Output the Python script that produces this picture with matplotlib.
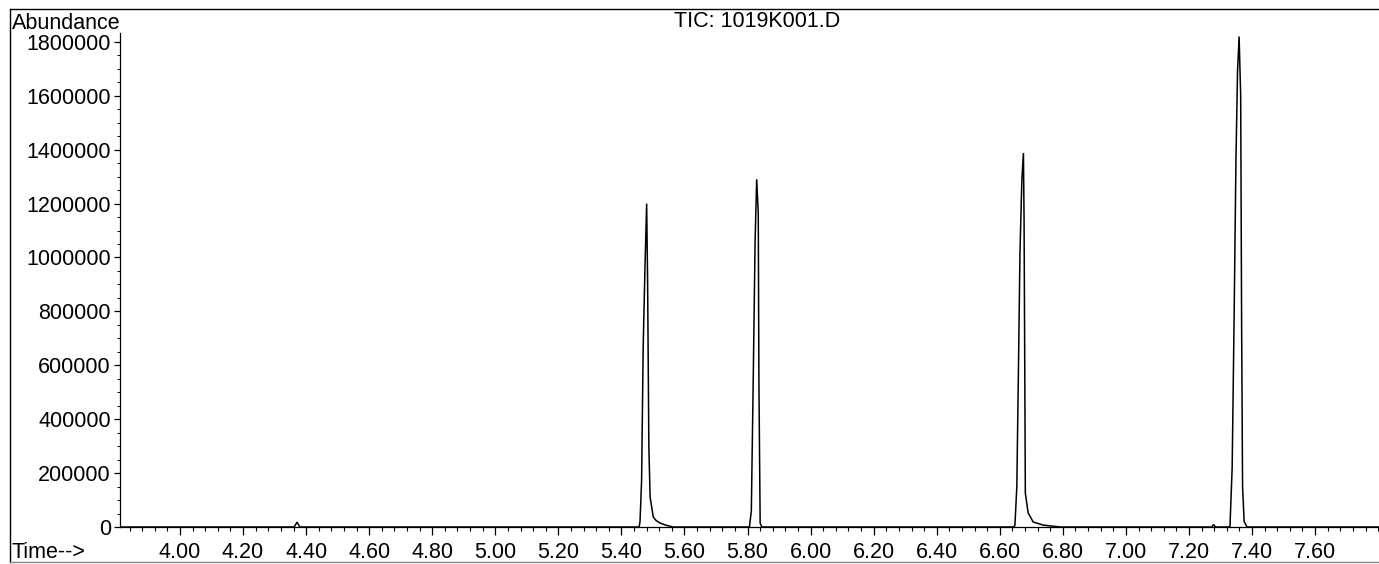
import matplotlib
matplotlib.use("Agg")
import matplotlib.pyplot as plt
from matplotlib.lines import Line2D
from matplotlib.ticker import MultipleLocator, FixedLocator
import numpy as np

# ---- data (time in min, abundance) ----
baseline_t = [3.8097, 7.8027]
baseline_y = [0, 0]

bump1_t = [4.362, 4.371, 4.380]
bump1_y = [0, 18000, 0]

peak1_t = [5.456, 5.459, 5.464, 5.469, 5.475, 5.480, 5.483, 5.487, 5.491, 5.501, 5.510, 5.522, 5.540, 5.564]
peak1_y = [0, 20000, 174000, 668000, 980000, 1200000, 917000, 297000, 111000, 37000, 24000, 15000, 7000, 0]

peak2_t = [5.806, 5.812, 5.818, 5.824, 5.829, 5.834, 5.836, 5.840, 5.845]
peak2_y = [0, 60000, 545000, 1065000, 1290000, 1165000, 545000, 15000, 0]

peak3_t = [6.645, 6.648, 6.654, 6.659, 6.664, 6.670, 6.675, 6.677, 6.679, 6.681, 6.690, 6.706, 6.738, 6.791]
peak3_y = [0, 7000, 148000, 571000, 1017000, 1288000, 1388000, 1139000, 646000, 126000, 52000, 18500, 7000, 0]

bump2_t = [7.272, 7.278, 7.284]
bump2_y = [0, 9000, 0]

peak4_t = [7.330, 7.337, 7.343, 7.349, 7.354, 7.359, 7.364, 7.367, 7.370, 7.375, 7.384]
peak4_y = [0, 220000, 760000, 1360000, 1690000, 1820000, 1600000, 750000, 150000, 20000, 0]

x_ticks = [4.00, 4.20, 4.40, 4.60, 4.80, 5.00, 5.20, 5.40, 5.60, 5.80, 6.00,
           6.20, 6.40, 6.60, 6.80, 7.00, 7.20, 7.40, 7.60]
y_ticks = [0, 200000, 400000, 600000, 800000, 1000000, 1200000, 1400000, 1600000, 1800000]

title_text = "TIC: 1019K001.D"
y_label = "Abundance"
x_label = "Time-->"

# ---- assemble trace ----
segs_t = [baseline_t[:1], bump1_t, peak1_t, peak2_t, peak3_t, bump2_t, peak4_t, baseline_t[1:]]
segs_y = [baseline_y[:1], bump1_y, peak1_y, peak2_y, peak3_y, bump2_y, peak4_y, baseline_y[1:]]
t = np.concatenate([np.asarray(s, float) for s in segs_t])
y = np.concatenate([np.asarray(s, float) for s in segs_y])

plt.rcParams['font.family'] = ['Liberation Sans', 'DejaVu Sans']
FS = 15.5

W, H = 1379, 564
fig = plt.figure(figsize=(W / 100, H / 100), dpi=100)
fig.patch.set_facecolor('white')

ax_left, ax_right = 120 / W, 1379 / W
ax_bottom, ax_top = (H - 527) / H, (H - 33) / H
ax = fig.add_axes([ax_left, ax_bottom, ax_right - ax_left, ax_top - ax_bottom])

ax.plot(t, y, color='black', lw=1.1, solid_joinstyle='miter')

ax.set_xlim(3.8097, 7.8027)
ax.set_ylim(0, 1833000)

for s in ['top', 'right']:
    ax.spines[s].set_visible(False)
for s in ['left', 'bottom']:
    ax.spines[s].set_linewidth(0.9)
    ax.spines[s].set_color('black')

ax.xaxis.set_major_locator(FixedLocator(x_ticks))
ax.set_xticklabels([f"{v:.2f}" for v in x_ticks])
ax.xaxis.set_minor_locator(MultipleLocator(0.04))
ax.yaxis.set_major_locator(FixedLocator(y_ticks))
ax.set_yticklabels([f"{v:d}" for v in y_ticks])
ax.yaxis.set_minor_locator(MultipleLocator(50000))

ax.tick_params(axis='x', which='major', direction='out', length=6, width=0.9, pad=5, labelsize=FS)
ax.tick_params(axis='x', which='minor', direction='out', length=3, width=0.8)
ax.tick_params(axis='y', which='major', direction='out', length=4.5, width=0.9, pad=2, labelsize=FS)
ax.tick_params(axis='y', which='minor', direction='out', length=2, width=0.7)

# texts in figure pixel coordinates
def fx(px):
    return px / W

def fy(py):
    return 1 - py / H

fig.text(fx(12), fy(29), y_label, fontsize=FS, ha='left', va='baseline')
fig.text(fx(757), fy(27), title_text, fontsize=FS, ha='center', va='baseline')
fig.text(fx(12), fy(558), x_label, fontsize=FS, ha='left', va='baseline')

# outer frame
fig.add_artist(Line2D([fx(11), 1.0], [fy(9), fy(9)], transform=fig.transFigure, color='black', lw=1.0))
fig.add_artist(Line2D([fx(10), fx(10)], [fy(9), fy(562)], transform=fig.transFigure, color='black', lw=1.0))
fig.add_artist(Line2D([fx(10), 1.0], [fy(562), fy(562)], transform=fig.transFigure, color='#888888', lw=1.0))

fig.savefig("out.png", dpi=100, facecolor='white')
